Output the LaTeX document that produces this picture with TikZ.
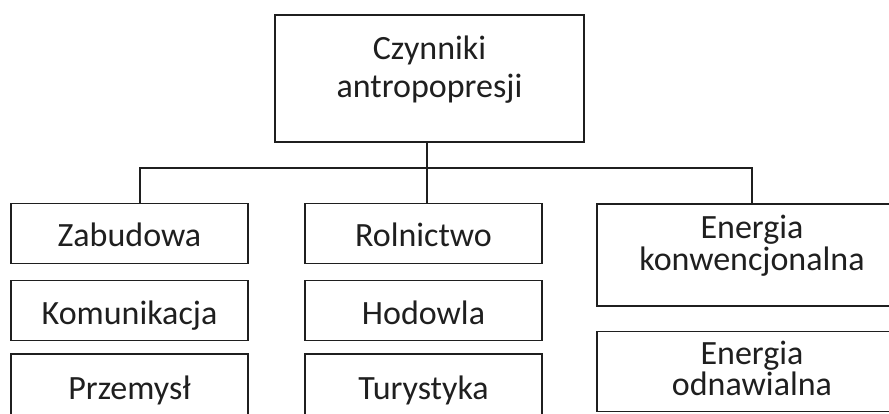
\documentclass[tikz,border=0pt]{standalone}
\usepackage{fontspec}
\setmainfont{Carlito}
\usepackage{tikz}
\usetikzlibrary{positioning}

\begin{document}
\begin{tikzpicture}[x=1pt,y=-1pt,
	box/.style={draw=black!88, line width=1.3pt, text=black!88, minimum width=237pt, minimum height=60pt, inner sep=0pt, font=\fontsize{34}{38}\selectfont, text height=27pt, text depth=0pt},
	wide/.style={box, minimum width=310pt, align=center},
	link/.style={draw=black!88, line width=1.3pt}]
	\useasboundingbox (0,0) rectangle (889,414);
	\clip (0,0) rectangle (889,414);
	% top
	\node[box, minimum width=309pt, minimum height=127pt, align=center, text height=45pt, text depth=6pt] (czyn) at (429.5,78.5) {Czynniki\\antropopresji};
	% left column
	\node[box] (zab) at (129.5,233.5) {Zabudowa};
	\node[box, below=16pt of zab] (kom) {Komunikacja};
	\node[box, below=12pt of kom, minimum height=66pt, text height=24pt] (prz) {Przemysł};
	% middle column
	\node[box] (rol) at (423.5,233.5) {Rolnictwo};
	\node[box, below=16pt of rol] (hod) {Hodowla};
	\node[box, below=12pt of hod, minimum height=66pt, text height=24pt] (tur) {Turystyka};
	% right column
	\node[wide, minimum height=102pt, font=\fontsize{34}{32}\selectfont, text height=36pt, text depth=6pt] (ekon) at (752,255) {Energia\\konwencjonalna};
	\node[wide, below=24pt of ekon, minimum height=80pt, font=\fontsize{34}{31}\selectfont, text height=54pt, text depth=6pt] (eodn) {Energia\\odnawialna};
	% connectors
	\coordinate (jl) at (140,168);
	\coordinate (jm) at (427,168);
	\coordinate (jr) at (752,168);
	\draw[link] (czyn.south -| jm) -- (jm |- rol.north);
	\draw[link] (jl |- zab.north) -- (jl) -- (jr) -- (jr |- ekon.north);
\end{tikzpicture}
\end{document}
